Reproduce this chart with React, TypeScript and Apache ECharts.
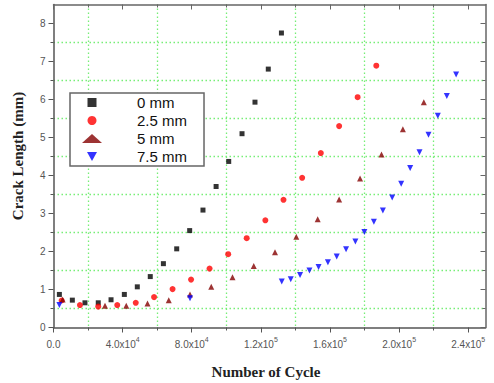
import React, { useEffect, useRef } from 'react';
import * as echarts from 'echarts';

const seriesNames = ['0 mm', '2.5 mm', '5 mm', '7.5 mm'];

const cycles0 = [3400, 10900, 18200, 25900, 33300, 41000, 48500, 56000, 63600, 71300, 78800, 86500, 94100, 101400, 109100, 116600, 124300, 131900];
const crack0 = [0.87, 0.72, 0.65, 0.65, 0.73, 0.87, 1.07, 1.34, 1.68, 2.07, 2.55, 3.09, 3.71, 4.37, 5.1, 5.93, 6.8, 7.75];

const cycles25 = [4700, 15300, 25900, 36900, 47600, 58200, 68900, 79600, 90300, 101100, 111800, 122600, 133100, 143900, 154700, 165300, 176000, 186800];
const crack25 = [0.71, 0.59, 0.55, 0.59, 0.65, 0.8, 1.01, 1.26, 1.55, 1.93, 2.35, 2.82, 3.36, 3.94, 4.59, 5.3, 6.06, 6.89];

const cycles5 = [5300, 29800, 42100, 54400, 66700, 79000, 91300, 103600, 115900, 128200, 140500, 152900, 165300, 177400, 189800, 202200, 214300];
const crack5 = [0.74, 0.57, 0.57, 0.63, 0.72, 0.87, 1.07, 1.32, 1.62, 1.98, 2.39, 2.85, 3.37, 3.92, 4.55, 5.22, 5.93];

const cycles75 = [3400, 79000, 132100, 137300, 142700, 148100, 153400, 158800, 163900, 169300, 174700, 179900, 185400, 190600, 196000, 201200, 206400, 211800, 217000, 222400, 227600, 233000];
const crack75 = [0.59, 0.77, 1.21, 1.27, 1.38, 1.5, 1.59, 1.72, 1.87, 2.06, 2.26, 2.51, 2.78, 3.08, 3.42, 3.78, 4.2, 4.61, 5.07, 5.57, 6.09, 6.66];

const xTickValues = [0, 40000, 80000, 120000, 160000, 200000, 240000];
const xTickMantissa = ['0.0', '4.0', '8.0', '1.2', '1.6', '2.0', '2.4'];
const xTickExponent = ['', '4', '4', '5', '5', '5', '5'];
const yTickValues = [0, 1, 2, 3, 4, 5, 6, 7, 8];

const zip = (xs: number[], ys: number[]) => xs.map((x, i) => [x, ys[i]]);

const AXIS_COLOR = '#555';
const GRID_COLOR = '#77ee77';
const SANS = '"Liberation Sans", Arial, sans-serif';
const SERIF = '"Liberation Serif", "Times New Roman", serif';

export default function App() {
  const ref = useRef<HTMLDivElement>(null);
  useEffect(() => {
    document.body.style.margin = '0';
    if (!ref.current) return;
    const chart = echarts.init(ref.current, undefined, { renderer: 'svg' });
    const xFormatter = (v: number) => {
      const i = xTickValues.indexOf(v);
      if (i < 0) return '';
      if (!xTickExponent[i]) return `{a|${xTickMantissa[i]}}`;
      return `{a|${xTickMantissa[i]}x10}{s|${xTickExponent[i]}}`;
    };
    const common = {
      type: 'value' as const,
      min: 0,
    };
    chart.setOption({
      animation: false,
      backgroundColor: '#fff',
      grid: { left: 53.5, top: 4.5, width: 432, height: 323, containLabel: false },
      xAxis: [
        {
          ...common,
          position: 'bottom',
          max: 250000,
          interval: 40000,
          axisLine: { show: true, onZero: false, lineStyle: { color: AXIS_COLOR, width: 1.5 } },
          axisTick: { show: true, length: 5, inside: false, customValues: xTickValues, lineStyle: { color: AXIS_COLOR, width: 1 } },
          minorTick: { show: true, splitNumber: 2, length: 3, lineStyle: { color: AXIS_COLOR, width: 1 } },
          splitLine: { show: false },
          minorSplitLine: { show: true, lineStyle: { color: GRID_COLOR, type: [1.5, 2.5], width: 1.3 } },
          axisLabel: {
            show: true,
            margin: 8,
            customValues: xTickValues,
            formatter: xFormatter,
            rich: {
              a: { fontSize: 10, lineHeight: 14, color: '#555', fontFamily: SANS, verticalAlign: 'bottom' },
              s: { fontSize: 7, lineHeight: 8, color: '#555', fontFamily: SANS, verticalAlign: 'top' },
            },
          },
        },
        {
          ...common,
          position: 'top',
          max: 250000,
          interval: 40000,
          axisLine: { show: true, onZero: false, lineStyle: { color: '#666', width: 1.5 } },
          axisTick: { show: true, length: 5, inside: true, customValues: xTickValues, lineStyle: { color: '#666', width: 1 } },
          minorTick: { show: true, splitNumber: 2, length: 3, lineStyle: { color: '#666', width: 1 } },
          splitLine: { show: false },
          axisLabel: { show: false },
        },
      ],
      yAxis: [
        {
          ...common,
          position: 'left',
          max: 8.5,
          interval: 1,
          axisLine: { show: true, onZero: false, lineStyle: { color: AXIS_COLOR, width: 1.5 } },
          axisTick: { show: true, length: 5, inside: false, customValues: yTickValues, lineStyle: { color: AXIS_COLOR, width: 1 } },
          minorTick: { show: true, splitNumber: 2, length: 3, lineStyle: { color: AXIS_COLOR, width: 1 } },
          splitLine: { show: false },
          minorSplitLine: { show: true, lineStyle: { color: GRID_COLOR, type: [1.5, 2.5], width: 1.3 } },
          axisLabel: {
            show: true,
            margin: 8,
            customValues: yTickValues,
            fontSize: 10,
            color: '#555',
            fontFamily: SANS,
            formatter: (v: number) => (Number.isInteger(v) ? String(v) : ''),
          },
        },
        {
          ...common,
          position: 'right',
          max: 8.5,
          interval: 1,
          axisLine: { show: true, onZero: false, lineStyle: { color: '#666', width: 1.5 } },
          axisTick: { show: true, length: 5, inside: true, customValues: yTickValues, lineStyle: { color: '#666', width: 1 } },
          minorTick: { show: true, splitNumber: 2, length: 3, lineStyle: { color: '#666', width: 1 } },
          splitLine: { show: false },
          axisLabel: { show: false },
        },
      ],
      legend: {
        orient: 'vertical',
        left: 70,
        top: 93,
        data: seriesNames,
        itemWidth: 20,
        itemHeight: 9,
        itemGap: 3,
        padding: [2, 17, 2, 12],
        backgroundColor: '#fff',
        borderColor: '#666',
        borderWidth: 1.5,
        borderRadius: 0,
        selectedMode: false,
        formatter: (n: string) => `{g|}{t|${n}}`,
        textStyle: {
          rich: {
            g: { width: 30 },
            t: { fontSize: 15, lineHeight: 17, color: '#111', fontFamily: SANS },
          },
        },
      },
      graphic: [
        {
          type: 'text',
          x: 18,
          y: 156,
          rotation: Math.PI / 2,
          style: {
            text: 'Crack Length (mm)',
            font: `bold 15px ${SERIF}`,
            fill: '#222',
            align: 'center',
            verticalAlign: 'middle',
            textAlign: 'center',
            textVerticalAlign: 'middle',
          },
        },
        {
          type: 'text',
          x: 266,
          y: 372,
          style: {
            text: 'Number of Cycle',
            font: `bold 15px ${SERIF}`,
            fill: '#222',
            align: 'center',
            verticalAlign: 'middle',
            textAlign: 'center',
            textVerticalAlign: 'middle',
          },
        },
      ],
      series: [
        {
          name: seriesNames[0],
          type: 'scatter',
          data: zip(cycles0, crack0),
          symbol: 'path://M0,0L10,0L10,10L0,10Z',
          symbolSize: 5,
          itemStyle: { color: '#000' },
        },
        {
          name: seriesNames[1],
          type: 'scatter',
          data: zip(cycles25, crack25),
          symbol: 'circle',
          symbolSize: 6,
          itemStyle: { color: '#ff0000' },
        },
        {
          name: seriesNames[2],
          type: 'scatter',
          data: zip(cycles5, crack5),
          symbol: 'triangle',
          symbolSize: 6,
          itemStyle: { color: '#850000' },
        },
        {
          name: seriesNames[3],
          type: 'scatter',
          data: zip(cycles75, crack75),
          symbol: 'path://M0,0L10,0L5,9Z',
          symbolSize: 6,
          itemStyle: { color: '#0000ff' },
        },
      ],
    });
    return () => chart.dispose();
  }, []);
  return <div ref={ref} style={{ width: 494, height: 383 }} />;
}
